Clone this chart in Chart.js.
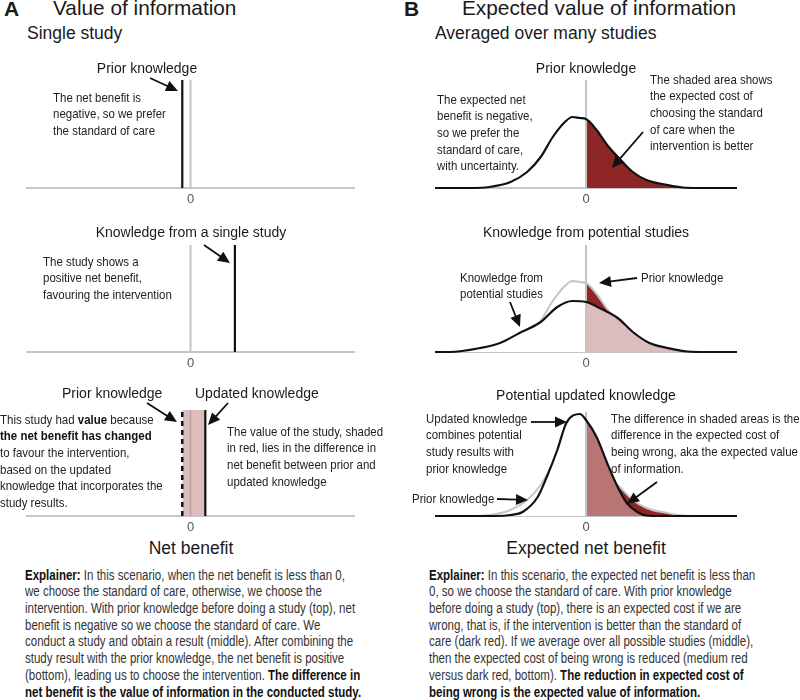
<!DOCTYPE html>
<html><head><meta charset="utf-8">
<script src="https://cdn.jsdelivr.net/npm/chart.js@4.4.0/dist/chart.umd.min.js"></script>
<style>
html,body{margin:0;padding:0;background:#fff;}
#root{position:relative;width:800px;height:700px;overflow:hidden;font-family:"Liberation Sans",Arial,sans-serif;color:#1a1a1a;}
canvas{position:absolute;}
.t{position:absolute;white-space:nowrap;}
.h{font-size:20.8px;line-height:20.8px;}
.hb{font-size:21px;line-height:21px;font-weight:bold;}
.s{font-size:17.5px;line-height:17.5px;}
.l{font-size:14px;line-height:14px;}
.ax{font-size:17.5px;line-height:17.5px;}
.n{font-family:"Liberation Sans",Arial,sans-serif;font-size:13.5px;line-height:16.7px;color:#222;transform:scaleX(0.85);transform-origin:0 0;}
.ex{font-family:"Liberation Sans",Arial,sans-serif;font-size:14px;line-height:16.7px;color:#333;transform:scaleX(0.822);transform-origin:0 0;}
.ex b,.n b{color:#111;}
.c{transform:translateX(-50%);}
svg{position:absolute;left:0;top:0;pointer-events:none;}
</style>
</head>
<body>
<div id="root">
<canvas id="a1" width="329" height="150" style="left:26px;top:60px;width:329px;height:150px"></canvas>
<canvas id="a2" width="329" height="150" style="left:26px;top:224px;width:329px;height:150px"></canvas>
<canvas id="a3" width="329" height="150" style="left:26px;top:388px;width:329px;height:150px"></canvas>
<canvas id="b1" width="302" height="150" style="left:435px;top:60px;width:302px;height:150px"></canvas>
<canvas id="b2" width="302" height="150" style="left:435px;top:224px;width:302px;height:150px"></canvas>
<canvas id="b3" width="302" height="150" style="left:435px;top:388px;width:302px;height:150px"></canvas>

<div class="t hb" style="left:4px;top:-2px">A</div>
<div class="t h" style="left:53px;top:-2px">Value of information</div>
<div class="t s" style="left:27px;top:25px">Single study</div>
<div class="t hb" style="left:404px;top:-2px">B</div>
<div class="t h" style="left:462px;top:-2px">Expected value of information</div>
<div class="t s" style="left:435px;top:25px">Averaged over many studies</div>

<div class="t l c" style="left:147px;top:61px">Prior knowledge</div>
<div class="t l c" style="left:191px;top:225px">Knowledge from a single study</div>
<div class="t l" style="left:62px;top:386px">Prior knowledge</div>
<div class="t l" style="left:195px;top:386px">Updated knowledge</div>
<div class="t l c" style="left:586px;top:61px">Prior knowledge</div>
<div class="t l c" style="left:586px;top:225px">Knowledge from potential studies</div>
<div class="t l c" style="left:586px;top:388px">Potential updated knowledge</div>

<div class="t ax c" style="left:191px;top:540px">Net benefit</div>
<div class="t ax c" style="left:586px;top:540px">Expected net benefit</div>

<div class="t n" style="left:53px;top:89.6px">The net benefit is<br>negative, so we prefer<br>the standard of care</div>
<div class="t n" style="left:43px;top:253.6px">The study shows a<br>positive net benefit,<br>favouring the intervention</div>
<div class="t n" style="left:0px;top:411.6px">This study had <b>value</b> because<br><b>the net benefit has changed</b><br>to favour the intervention,<br>based on the updated<br>knowledge that incorporates the<br>study results.</div>
<div class="t n" style="left:227px;top:423.6px">The value of the study, shaded<br>in red, lies in the difference in<br>net benefit between prior and<br>updated knowledge</div>

<div class="t n" style="left:437px;top:91.6px">The expected net<br>benefit is negative,<br>so we prefer the<br>standard of care,<br>with uncertainty.</div>
<div class="t n" style="left:650px;top:71.6px">The shaded area shows<br>the expected cost of<br>choosing the standard<br>of care when the<br>intervention is better</div>
<div class="t n" style="left:460px;top:269.6px">Knowledge from<br>potential studies</div>
<div class="t n" style="left:641px;top:269.6px">Prior knowledge</div>
<div class="t n" style="left:426px;top:410.6px">Updated knowledge<br>combines potential<br>study results with<br>prior knowledge</div>
<div class="t n" style="left:412px;top:490.6px">Prior knowledge</div>
<div class="t n" style="left:611px;top:410.6px">The difference in shaded areas is the<br>difference in the expected cost of<br>being wrong, aka the expected value<br>of information.</div>

<div class="t ex" style="left:25px;top:566.6px"><b>Explainer:</b> In this scenario, when the net benefit is less than 0,<br>we choose the standard of care, otherwise, we choose the<br>intervention. With prior knowledge before doing a study (top), net<br>benefit is negative so we choose the standard of care. We<br>conduct a study and obtain a result (middle). After combining the<br>study result with the prior knowledge, the net benefit is positive<br>(bottom), leading us to choose the intervention. <b>The difference in</b><br><b>net benefit is the value of information in the conducted study.</b></div>
<div class="t ex" style="left:429px;top:566.6px"><b>Explainer:</b> In this scenario, the expected net benefit is less than<br>0, so we choose the standard of care. With prior knowledge<br>before doing a study (top), there is an expected cost if we are<br>wrong, that is, if the intervention is better than the standard of<br>care (dark red). If we average over all possible studies (middle),<br>then the expected cost of being wrong is reduced (medium red<br>versus dark red, bottom). <b>The reduction in expected cost of</b><br><b>being wrong is the expected value of information.</b></div>

<svg id="arrows" width="800" height="700"></svg>
</div>
<script>
// ---------- data ----------
const zeroTick = [0];
// Panel A (single study), net benefit positions
const priorValue = -0.05;
const studyValue = 0.27;
const updatedValue = 0.09;
const markHeightA = [1.08, 1.07, 1.06];
// Panel B (distributions of expected net benefit)
const priorX = [-1, -0.77, -0.64, -0.50, -0.39, -0.30, -0.22, -0.14, -0.09, -0.04, 0, 0.07, 0.14, 0.23, 0.31, 0.40, 0.54, 0.64, 0.75, 1];
const priorY = [0, 0, 0.01, 0.06, 0.16, 0.31, 0.51, 0.66, 0.71, 0.70, 0.69, 0.58, 0.43, 0.28, 0.16, 0.08, 0.03, 0.005, 0, 0];
const studiesX = [-1, -0.90, -0.70, -0.57, -0.44, -0.30, -0.19, -0.09, 0, 0.09, 0.21, 0.31, 0.42, 0.54, 0.67, 0.80, 1];
const studiesY = [0, 0, 0.04, 0.09, 0.19, 0.30, 0.45, 0.51, 0.50, 0.44, 0.34, 0.20, 0.09, 0.04, 0.005, 0, 0];
const updatedX = [-1, -0.60, -0.50, -0.42, -0.32, -0.26, -0.19, -0.13, -0.04, 0, 0.07, 0.14, 0.21, 0.27, 0.34, 0.40, 0.50, 1];
const updatedY = [0, 0, 0.01, 0.04, 0.19, 0.39, 0.66, 0.93, 1.02, 0.96, 0.79, 0.53, 0.29, 0.13, 0.04, 0.005, 0, 0];
const zeroLineHeightB = [1.08, 1.07, 1.04];

// ---------- helpers ----------
const GRAY = '#c4c4c4', BLACK = '#111', DARKRED = '#8e2626', MEDRED = '#b97474', PINK = '#ddbcbe', WHITE = '#ffffff';
const pts = (xs, ys) => xs.map((x, i) => ({x, y: ys[i]}));
const right = (xs, ys) => pts(xs, ys).filter(p => p.x >= 0);
const left = (xs, ys) => pts(xs, ys).filter(p => p.x <= 0);
const vline = (x, h) => [{x, y: 0}, {x, y: h}];

function make(id, datasets) {
  return new Chart(document.getElementById(id), {
    type: 'line',
    data: {datasets},
    options: {
      responsive: false, animation: false,
      layout: {padding: 0},
      plugins: {legend: {display: false}, tooltip: {enabled: false}},
      elements: {point: {radius: 0}},
      scales: {
        x: {
          type: 'linear', min: -1, max: 1,
          grid: {display: false, drawTicks: false},
          border: {display: true, color: '#c6c6c6', width: 2},
          ticks: {padding: 4, color: '#555', font: {size: 13, family: 'Liberation Sans'}},
          afterBuildTicks: s => { s.ticks = zeroTick.map(v => ({value: v})); },
          afterFit: s => { s.height = 22; }
        },
        y: {display: false, min: 0, max: 1.28}
      }
    }
  });
}
const ln = (data, color, w, order, extra) => Object.assign({data, borderColor: color, borderWidth: w, fill: false, order, clip: false}, extra || {});
const area = (data, color, order, mode) => ({data, borderWidth: 0, borderColor: 'rgba(0,0,0,0)', backgroundColor: color, fill: 'origin', order, clip: false, cubicInterpolationMode: mode || 'default'});
const smooth = {cubicInterpolationMode: 'monotone'};

// Panel A
make('a1', [
  ln(vline(0, markHeightA[0]), GRAY, 2, 3),
  ln(vline(priorValue, markHeightA[0]), BLACK, 2.2, 1)
]);
make('a2', [
  ln(vline(0, markHeightA[1]), GRAY, 2, 3),
  ln(vline(studyValue, markHeightA[1]), BLACK, 2.2, 1)
]);
make('a3', [
  area([{x: priorValue, y: markHeightA[2]}, {x: updatedValue, y: markHeightA[2]}], PINK, 6),
  ln(vline(0, markHeightA[2]), '#b9a0a2', 1.5, 3),
  ln(vline(priorValue, markHeightA[2]), BLACK, 2.5, 1, {borderDash: [5, 4]}),
  ln(vline(updatedValue, markHeightA[2]), BLACK, 2.2, 1)
]);
// Panel B
make('b1', [
  area(right(priorX, priorY), DARKRED, 6, 'monotone'),
  ln(vline(0, zeroLineHeightB[0]), GRAY, 2, 5),
  ln(pts(priorX, priorY), BLACK, 2.2, 1, smooth)
]);
make('b2', [
  area(right(priorX, priorY), DARKRED, 8, 'monotone'),
  ln(pts(priorX, priorY), GRAY, 2, 7, smooth),
  area(left(studiesX, studiesY), WHITE, 6, 'monotone'),
  area(right(studiesX, studiesY), PINK, 6, 'monotone'),
  ln(vline(0, zeroLineHeightB[1]), GRAY, 2, 5),
  ln(pts(studiesX, studiesY), BLACK, 2.2, 1, smooth)
]);
make('b3', [
  area(right(priorX, priorY), DARKRED, 8, 'monotone'),
  ln(pts(priorX, priorY), GRAY, 2, 7, smooth),
  area(left(updatedX, updatedY), WHITE, 6, 'monotone'),
  area(right(updatedX, updatedY), MEDRED, 6, 'monotone'),
  ln(vline(0, zeroLineHeightB[2]), GRAY, 2, 5),
  ln(pts(updatedX, updatedY), BLACK, 2.2, 1, smooth)
]);

// ---------- arrows ----------
const svg = document.getElementById('arrows');
function arrow(x1, y1, x2, y2) {
  const dx = x2 - x1, dy = y2 - y1, len = Math.hypot(dx, dy);
  const ux = dx / len, uy = dy / len, hl = 12, hw = 5.5;
  const bx = x2 - ux * hl, by = y2 - uy * hl;
  const ns = 'http://www.w3.org/2000/svg';
  const l = document.createElementNS(ns, 'line');
  l.setAttribute('x1', x1); l.setAttribute('y1', y1); l.setAttribute('x2', bx + ux * 2); l.setAttribute('y2', by + uy * 2);
  l.setAttribute('stroke', '#111'); l.setAttribute('stroke-width', '1.8');
  svg.appendChild(l);
  const p = document.createElementNS(ns, 'polygon');
  p.setAttribute('points', `${x2},${y2} ${bx - uy * hw},${by + ux * hw} ${bx + uy * hw},${by - ux * hw}`);
  p.setAttribute('fill', '#111');
  svg.appendChild(p);
}
arrow(150, 78, 178, 91);
arrow(204, 245, 230, 263);
arrow(147, 403, 177, 422);
arrow(228, 403, 208, 425);
arrow(643, 132, 612, 168);
arrow(510, 302, 520, 327);
arrow(637, 278, 599, 283);
arrow(531, 422, 567, 422);
arrow(497, 499, 528, 500);
arrow(657, 482, 627, 504);
</script>
</body></html>
